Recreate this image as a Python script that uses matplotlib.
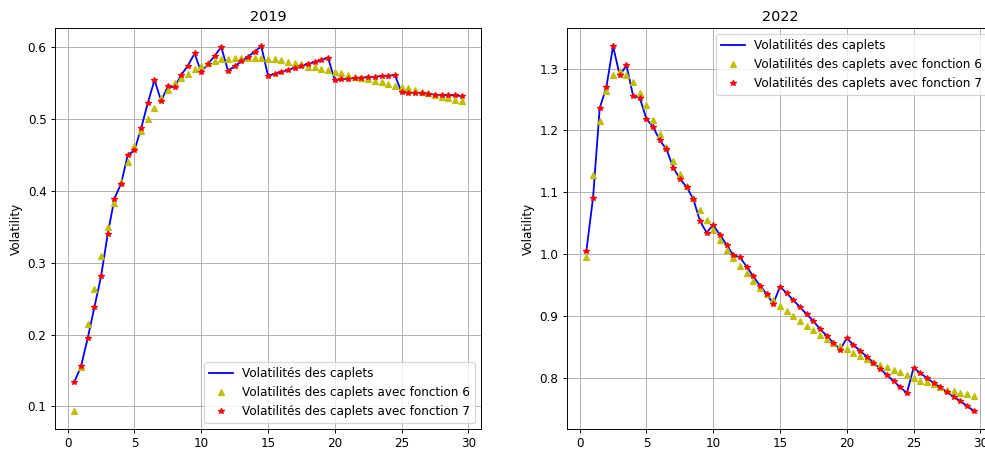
import numpy as np
import matplotlib
matplotlib.use("Agg")
import matplotlib.pyplot as plt

maturities = [0.5 * i for i in range(1, 60)]

vol_2019 = [0.134, 0.156, 0.195, 0.238, 0.281, 0.340, 0.389, 0.410, 0.450, 0.456,
            0.487, 0.522, 0.554, 0.525, 0.545, 0.544, 0.561, 0.574, 0.591, 0.565,
            0.576, 0.5875, 0.600, 0.567, 0.573, 0.580, 0.5865, 0.5935, 0.601, 0.560,
            0.5624, 0.565, 0.568, 0.571, 0.5735, 0.5763, 0.579, 0.582, 0.585, 0.5536,
            0.555, 0.556, 0.557, 0.5573, 0.558, 0.5585, 0.5596, 0.560, 0.561, 0.537,
            0.5365, 0.536, 0.5355, 0.535, 0.5336, 0.5333, 0.533, 0.5325, 0.5318]
f6_2019 = [0.094, 0.155, 0.214, 0.264, 0.309, 0.349, 0.383, 0.412, 0.440, 0.462,
           0.483, 0.4997, 0.5155, 0.5285, 0.540, 0.5494, 0.5564, 0.563, 0.569, 0.574,
           0.578, 0.5805, 0.583, 0.5837, 0.5847, 0.585, 0.585, 0.584, 0.584, 0.5837,
           0.583, 0.5817, 0.5796, 0.578, 0.576, 0.5726, 0.5717, 0.5698, 0.5675, 0.565,
           0.5633, 0.561, 0.5586, 0.557, 0.5554, 0.553, 0.551, 0.548, 0.5457, 0.5438,
           0.5425, 0.540, 0.538, 0.5355, 0.5335, 0.531, 0.5293, 0.5266, 0.5244]
f7_2019 = list(vol_2019)

vol_2022 = [1.005, 1.091, 1.236, 1.270, 1.336, 1.289, 1.305, 1.256, 1.2526, 1.2186,
            1.2056, 1.184, 1.1695, 1.140, 1.122, 1.1086, 1.0897, 1.054, 1.035, 1.047,
            1.0314, 1.015, 0.9985, 0.995, 0.980, 0.964, 0.9494, 0.9354, 0.920, 0.9477,
            0.937, 0.9257, 0.9143, 0.903, 0.8917, 0.8793, 0.868, 0.857, 0.8458, 0.8642,
            0.8534, 0.8437, 0.8345, 0.8248, 0.8146, 0.8049, 0.7951, 0.785, 0.7757, 0.8162,
            0.808, 0.800, 0.7919, 0.785, 0.7773, 0.7697, 0.7628, 0.7547, 0.747]
f6_2022 = [0.996, 1.1285, 1.2148, 1.2633, 1.289, 1.2957, 1.290, 1.2785, 1.2607, 1.2406,
           1.2175, 1.1948, 1.1733, 1.1511, 1.130, 1.1095, 1.0907, 1.0718, 1.0550, 1.0384,
           1.0222, 1.0071, 0.9937, 0.981, 0.9694, 0.957, 0.946, 0.935, 0.9262, 0.917,
           0.9084, 0.900, 0.8927, 0.8846, 0.8777, 0.870, 0.8636, 0.857, 0.8518, 0.8464,
           0.841, 0.835, 0.8307, 0.8254, 0.821, 0.8173, 0.813, 0.8092, 0.8053, 0.8005,
           0.7956, 0.793, 0.7898, 0.786, 0.7806, 0.779, 0.7762, 0.7736, 0.7709]
f7_2022 = list(vol_2022)

labels = ["Volatilités des caplets",
          "Volatilités des caplets avec fonction 6",
          "Volatilités des caplets avec fonction 7"]

DPI = 86.5
fig = plt.figure(figsize=(985 / DPI, 450 / DPI), dpi=DPI)
ax1 = fig.add_axes([55/985, 1-429/450, 426/985, 401/450])
ax2 = fig.add_axes([567/985, 1-429/450, 426/985, 401/450])

for ax, title, v, f6, f7, loc in [
        (ax1, "2019", vol_2019, f6_2019, f7_2019, "lower right"),
        (ax2, "2022", vol_2022, f6_2022, f7_2022, "upper right")]:
    ax.plot(maturities, v, 'b-', label=labels[0])
    ax.plot(maturities, f6, 'y^', markersize=4.5, label=labels[1])
    ax.plot(maturities, f7, 'r*', markersize=5, label=labels[2])
    ax.set_title(title)
    ax.set_ylabel("Volatility")
    ax.grid(True)
    ax.legend(loc=loc)

fig.savefig("out.png", dpi=DPI)
